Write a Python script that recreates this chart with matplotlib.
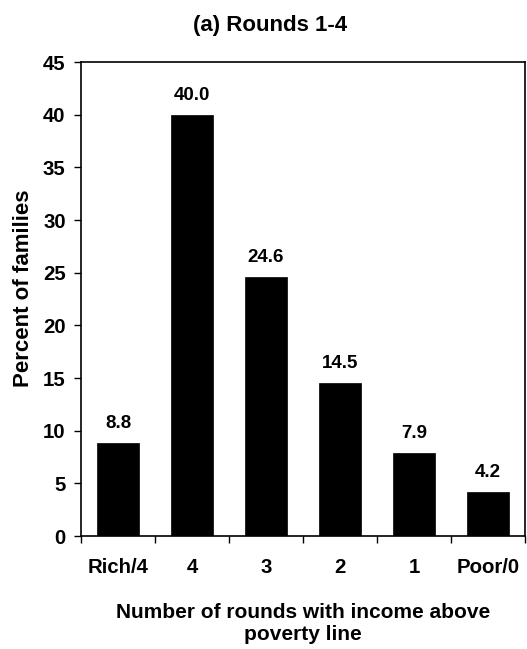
import matplotlib
matplotlib.use("Agg")
import matplotlib.pyplot as plt
import numpy as np

categories = ["Rich/4", "4", "3", "2", "1", "Poor/0"]
values = [8.8, 40.0, 24.6, 14.5, 7.9, 4.2]
labels = ["8.8", "40.0", "24.6", "14.5", "7.9", "4.2"]
yticks = [0, 5, 10, 15, 20, 25, 30, 35, 40, 45]

plt.rcParams['font.family'] = ['Liberation Sans', 'DejaVu Sans']
plt.rcParams['font.weight'] = 'bold'

W, H = 527, 649
fig = plt.figure(figsize=(W/100, H/100), dpi=100)
ax = fig.add_axes([81/W, 1-536/H, (525-81)/W, (536-62)/H])

x = np.arange(len(categories))
ax.bar(x, values, width=0.57, color='black', edgecolor='black', linewidth=0.5)
for xi, v, lab in zip(x, values, labels):
    ax.annotate(lab, (xi, v), xytext=(0, 8), textcoords='offset points',
                ha='center', va='bottom', fontsize=13.5, fontweight='bold')

ax.set_xlim(-0.5, len(categories)-0.5)
ax.set_ylim(0, 45)
ax.set_yticks(yticks)
ax.set_yticklabels([str(t) for t in yticks], fontsize=14.7, fontweight='bold')
ax.set_xticks(x)
ax.set_xticklabels(categories, fontsize=14.7, fontweight='bold')
ax.set_xticks(np.arange(-0.5, len(categories)), minor=True)
ax.tick_params(axis='x', which='major', length=0, pad=16)
ax.tick_params(axis='x', which='minor', length=5, width=1, direction='out')
ax.tick_params(axis='y', which='major', length=5, width=1, direction='out', pad=6)
for s in ax.spines.values():
    s.set_linewidth(1.2)

fig.text(24/W, 1-288/H, "Percent of families", rotation=90, ha='center', va='center',
         fontsize=16, fontweight='bold')
fig.text(303/W, 1-623.5/H, "Number of rounds with income above\npoverty line", ha='center',
         va='center', fontsize=15, fontweight='bold', linespacing=1.15)
fig.text(270/W, 1-25/H, "(a) Rounds 1-4", ha='center', va='center',
         fontsize=16, fontweight='bold')

fig.savefig("out.png", dpi=100)
